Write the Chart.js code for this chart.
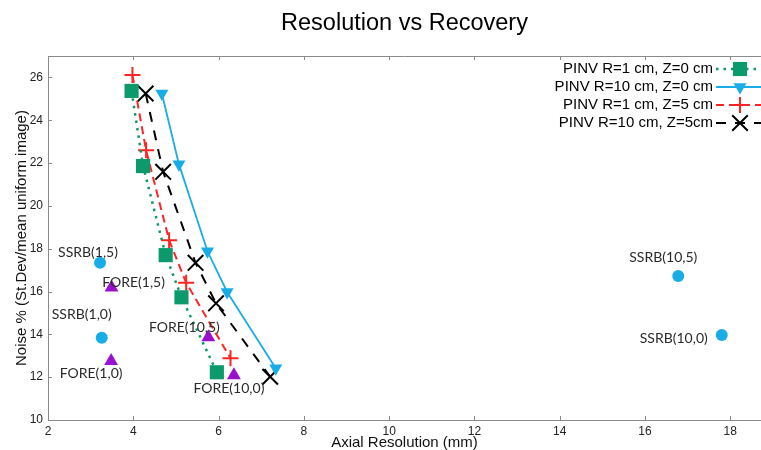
<!DOCTYPE html>
<html lang="en">
<head>
  <meta charset="UTF-8">
  <title>Resolution vs Recovery</title>
  <script src="https://cdn.jsdelivr.net/npm/chart.js"></script>
  <style>
    body { margin: 0; background: #fff; }
    #wrap { width: 761px; height: 450px; }
  </style>
</head>
<body>
  <div id="wrap"><canvas id="grafico" width="761" height="450"></canvas></div>

  <script>
    // PINV series: axial resolution (mm) and noise (%)
    const seriesNames = ['PINV R=1 cm, Z=0 cm', 'PINV R=10 cm, Z=0 cm', 'PINV R=1 cm, Z=5 cm', 'PINV R=10 cm, Z=5cm'];
    const r1z0Res = [3.96, 4.23, 4.76, 5.13, 5.96];
    const r1z0Noise = [25.37, 21.86, 17.70, 15.73, 12.23];
    const r10z0Res = [4.67, 5.07, 5.74, 6.20, 7.34];
    const r10z0Noise = [25.25, 21.95, 17.88, 15.98, 12.42];
    const r1z5Res = [3.98, 4.30, 4.84, 5.24, 6.28];
    const r1z5Noise = [26.11, 22.60, 18.40, 16.41, 12.88];
    const r10z5Res = [4.29, 4.70, 5.46, 5.94, 7.21];
    const r10z5Noise = [25.25, 21.59, 17.34, 15.45, 12.02];

    // single points
    const ssrbNames = ['SSRB(1,5)', 'SSRB(1,0)', 'SSRB(10,5)', 'SSRB(10,0)'];
    const ssrbRes = [3.22, 3.26, 16.78, 17.80];
    const ssrbNoise = [17.34, 13.84, 16.72, 13.97];
    const foreNames = ['FORE(1,5)', 'FORE(1,0)', 'FORE(10,5)', 'FORE(10,0)'];
    const foreRes = [3.49, 3.48, 5.76, 6.36];
    const foreNoise = [16.19, 12.75, 13.87, 12.09];

    // axis ticks
    const xTicks = [2, 4, 6, 8, 10, 12, 14, 16, 18];
    const yTicks = [10, 12, 14, 16, 18, 20, 22, 24, 26];

    // where the point labels sit relative to their marker (px)
    const labelOffsets = {
      'SSRB(1,5)': [-12, -10], 'SSRB(1,0)': [-20, -23],
      'SSRB(10,5)': [-15, -19], 'SSRB(10,0)': [-48, 3],
      'FORE(1,5)': [22, -5], 'FORE(1,0)': [-20, 12],
      'FORE(10,5)': [-24, -10], 'FORE(10,0)': [-5, 13]
    };

    function pts(xs, ys, names) {
      return xs.map((x, i) => ({ x: x, y: ys[i], name: names ? names[i] : null }));
    }

    const GREEN = '#0c9a6c', BLUE = '#18ade6', RED = '#ff2424', PURPLE = '#9a10cf';
    const AXIS = '#8a8a8a';

    const datasets = [
      { label: seriesNames[0], data: pts(r1z0Res, r1z0Noise), showLine: true,
        borderColor: GREEN, backgroundColor: GREEN, borderWidth: 2.5, borderDash: [2.5, 5],
        pointStyle: 'rect', pointRadius: 10, pointBorderWidth: 0, pointBackgroundColor: GREEN },
      { label: seriesNames[1], data: pts(r10z0Res, r10z0Noise), showLine: true,
        borderColor: BLUE, backgroundColor: BLUE, borderWidth: 1.8,
        pointStyle: 'triangle', pointRotation: 180, pointRadius: 7.5, pointBorderWidth: 0, pointBackgroundColor: BLUE },
      { label: seriesNames[2], data: pts(r1z5Res, r1z5Noise), showLine: true,
        borderColor: RED, backgroundColor: RED, borderWidth: 2, borderDash: [8, 5],
        pointStyle: 'cross', pointRadius: 8, pointBorderWidth: 2, pointBorderColor: RED },
      { label: seriesNames[3], data: pts(r10z5Res, r10z5Noise), showLine: true,
        borderColor: '#000', backgroundColor: '#000', borderWidth: 2, borderDash: [10, 9],
        pointStyle: 'crossRot', pointRadius: 11, pointBorderWidth: 2, pointBorderColor: '#000' },
      { label: 'SSRB', data: pts(ssrbRes, ssrbNoise, ssrbNames), showLine: false, legendHide: true,
        pointStyle: 'circle', pointRadius: 6, pointBorderWidth: 0, pointBackgroundColor: BLUE },
      { label: 'FORE', data: pts(foreRes, foreNoise, foreNames), showLine: false, legendHide: true,
        pointStyle: 'triangle', pointRadius: 8, pointBorderWidth: 0, pointBackgroundColor: PURPLE }
    ];

    // box frame with inward ticks
    const frame = {
      id: 'frame',
      afterDraw(chart) {
        const ctx = chart.ctx, a = chart.chartArea;
        const xs = chart.scales.x, ys = chart.scales.y;
        ctx.save();
        ctx.strokeStyle = AXIS;
        ctx.lineWidth = 1;
        ctx.beginPath();
        ctx.moveTo(a.left, a.top + 0.5);
        ctx.lineTo(a.right, a.top + 0.5);
        xTicks.forEach(v => {
          const px = Math.round(xs.getPixelForValue(v)) + 0.5;
          ctx.moveTo(px, a.bottom); ctx.lineTo(px, a.bottom - 4);
          ctx.moveTo(px, a.top); ctx.lineTo(px, a.top + 4);
        });
        yTicks.forEach(v => {
          const py = Math.round(ys.getPixelForValue(v)) + 0.5;
          ctx.moveTo(a.left, py); ctx.lineTo(a.left + 4, py);
        });
        ctx.stroke();
        ctx.restore();
      }
    };

    // text next to the SSRB / FORE points
    const pointLabels = {
      id: 'pointLabels',
      afterDatasetsDraw(chart) {
        const ctx = chart.ctx;
        ctx.save();
        ctx.font = '14px Lato, "Open Sans", sans-serif';
        ctx.fillStyle = '#2a2a2a';
        ctx.textAlign = 'center';
        ctx.textBaseline = 'middle';
        chart.data.datasets.forEach((ds, i) => {
          const meta = chart.getDatasetMeta(i);
          ds.data.forEach((p, j) => {
            if (!p.name) return;
            const el = meta.data[j];
            const off = labelOffsets[p.name] || [0, -14];
            ctx.fillText(p.name, el.x + off[0], el.y + off[1]);
          });
        });
        ctx.restore();
      }
    };

    // legend: text on the left, line sample on the right
    const sideLegend = {
      id: 'sideLegend',
      afterDraw(chart) {
        const ctx = chart.ctx;
        const textRight = 713, lineL = 716, lineR = 766, markX = 740;
        const rows = [69, 87, 105, 123];
        ctx.save();
        ctx.font = '15px "Liberation Sans", Arial, sans-serif';
        ctx.textAlign = 'right';
        ctx.textBaseline = 'middle';
        chart.data.datasets.filter(d => !d.legendHide).forEach((ds, i) => {
          const y = rows[i];
          ctx.fillStyle = '#000';
          ctx.fillText(ds.label, textRight, y);
          ctx.strokeStyle = ds.borderColor;
          ctx.lineWidth = ds.borderWidth;
          ctx.setLineDash(ds.borderDash || []);
          ctx.beginPath();
          ctx.moveTo(lineL, y); ctx.lineTo(lineR, y);
          ctx.stroke();
          ctx.setLineDash([]);
          ctx.fillStyle = ds.pointBackgroundColor || ds.borderColor;
          ctx.strokeStyle = ds.pointBorderColor || ds.borderColor;
          ctx.lineWidth = ds.pointBorderWidth;
          Chart.helpers.drawPoint(ctx, {
            pointStyle: ds.pointStyle, rotation: ds.pointRotation || 0,
            radius: ds.pointRadius, borderWidth: ds.pointBorderWidth
          }, markX, y);
        });
        ctx.restore();
      }
    };

    const tickFont = { family: '"Liberation Sans", Arial, sans-serif', size: 12 };
    const titleFont = { family: '"Liberation Sans", Arial, sans-serif', size: 15, lineHeight: 1.2 };

    new Chart(document.getElementById('grafico').getContext('2d'), {
      type: 'scatter',
      data: { datasets: datasets },
      options: {
        responsive: false,
        animation: false,
        layout: { padding: 0, autoPadding: false },
        elements: { line: { tension: 0 } },
        datasets: { scatter: { clip: false } },
        plugins: {
          legend: { display: false },
          tooltip: { enabled: false },
          title: {
            display: true, text: 'Resolution vs Recovery', fullSize: false,
            color: '#000', font: { family: '"Liberation Sans", Arial, sans-serif', size: 23.5, weight: 'normal', lineHeight: 1.2 },
            padding: { top: 9, bottom: 18.8 }
          }
        },
        scales: {
          x: {
            type: 'linear', min: 2, max: 18.72,
            afterFit: s => { s.height = 30; s.paddingLeft = 0; s.paddingRight = 0; },
            grid: { display: false, drawTicks: false },
            border: { color: AXIS, width: 1 },
            ticks: { stepSize: 2, includeBounds: false, maxRotation: 0, padding: 4, color: '#222', font: tickFont },
            title: { display: true, text: 'Axial Resolution (mm)', color: '#111',
                     font: { family: '"Liberation Sans", Arial, sans-serif', size: 15, lineHeight: 1.0 },
                     padding: { top: 0, bottom: 0 } }
          },
          y: {
            type: 'linear', min: 10, max: 27,
            afterFit: s => { s.width = 48; s.paddingTop = 0; s.paddingBottom = 0; },
            grid: { display: false, drawTicks: false },
            border: { color: AXIS, width: 1 },
            ticks: { stepSize: 2, includeBounds: false, padding: 5, color: '#222', font: tickFont },
            title: { display: true, text: 'Noise % (St.Dev/mean uniform image)', color: '#111', font: titleFont,
                     padding: { top: 13, bottom: 0 } }
          }
        }
      },
      plugins: [frame, pointLabels, sideLegend]
    });
  </script>
</body>
</html>
